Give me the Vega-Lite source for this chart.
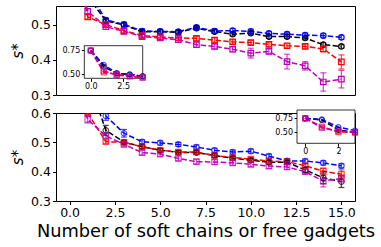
{
"$schema": "https://vega.github.io/schema/vega-lite/v6.json",
"padding": {"left": 10, "top": 5, "right": 0, "bottom": 0},
"background": "white",
"config": {"font": "DejaVu Sans", "view": {"stroke": "#000", "strokeWidth": 1}, "axis": {"grid": false, "labelOverlap": false, "labelColor": "#000", "titleColor": "#000", "tickColor": "#000", "labelFont": "DejaVu Sans", "titleFont": "DejaVu Sans", "titleFontWeight": "normal"}},
"datasets": {"d": [
{"p":"T","s":"k","n":0,"v":0.75,"lo":0.745,"hi":0.755},
{"p":"T","s":"k","n":1,"v":0.58,"lo":0.575,"hi":0.585},
{"p":"T","s":"k","n":2,"v":0.511,"lo":0.506,"hi":0.516},
{"p":"T","s":"k","n":3,"v":0.499,"lo":0.494,"hi":0.504},
{"p":"T","s":"k","n":4,"v":0.48,"lo":0.475,"hi":0.485},
{"p":"T","s":"k","n":5,"v":0.48,"lo":0.475,"hi":0.485},
{"p":"T","s":"k","n":6,"v":0.478,"lo":0.473,"hi":0.483},
{"p":"T","s":"k","n":7,"v":0.49,"lo":0.485,"hi":0.495},
{"p":"T","s":"k","n":8,"v":0.48,"lo":0.475,"hi":0.485},
{"p":"T","s":"k","n":9,"v":0.473,"lo":0.468,"hi":0.478},
{"p":"T","s":"k","n":10,"v":0.476,"lo":0.471,"hi":0.481},
{"p":"T","s":"k","n":11,"v":0.466,"lo":0.461,"hi":0.471},
{"p":"T","s":"k","n":12,"v":0.466,"lo":0.461,"hi":0.471},
{"p":"T","s":"k","n":13,"v":0.462,"lo":0.457,"hi":0.467},
{"p":"T","s":"k","n":14,"v":0.443,"lo":0.437,"hi":0.449},
{"p":"T","s":"k","n":15,"v":0.438,"lo":0.433,"hi":0.443},
{"p":"T","s":"b","n":0,"v":0.75,"lo":0.744,"hi":0.756},
{"p":"T","s":"b","n":1,"v":0.6,"lo":0.594,"hi":0.606},
{"p":"T","s":"b","n":2,"v":0.513,"lo":0.507,"hi":0.519},
{"p":"T","s":"b","n":3,"v":0.501,"lo":0.495,"hi":0.507},
{"p":"T","s":"b","n":4,"v":0.482,"lo":0.476,"hi":0.488},
{"p":"T","s":"b","n":5,"v":0.481,"lo":0.475,"hi":0.487},
{"p":"T","s":"b","n":6,"v":0.48,"lo":0.474,"hi":0.486},
{"p":"T","s":"b","n":7,"v":0.492,"lo":0.486,"hi":0.498},
{"p":"T","s":"b","n":8,"v":0.482,"lo":0.476,"hi":0.488},
{"p":"T","s":"b","n":9,"v":0.483,"lo":0.477,"hi":0.489},
{"p":"T","s":"b","n":10,"v":0.481,"lo":0.475,"hi":0.487},
{"p":"T","s":"b","n":11,"v":0.475,"lo":0.469,"hi":0.481},
{"p":"T","s":"b","n":12,"v":0.473,"lo":0.467,"hi":0.479},
{"p":"T","s":"b","n":13,"v":0.47,"lo":0.464,"hi":0.476},
{"p":"T","s":"b","n":14,"v":0.469,"lo":0.463,"hi":0.475},
{"p":"T","s":"b","n":15,"v":0.464,"lo":0.458,"hi":0.47},
{"p":"T","s":"r","n":0,"v":0.75,"lo":0.744,"hi":0.756},
{"p":"T","s":"r","n":1,"v":0.522,"lo":0.516,"hi":0.528},
{"p":"T","s":"r","n":2,"v":0.5,"lo":0.494,"hi":0.506},
{"p":"T","s":"r","n":3,"v":0.483,"lo":0.477,"hi":0.489},
{"p":"T","s":"r","n":4,"v":0.469,"lo":0.463,"hi":0.475},
{"p":"T","s":"r","n":5,"v":0.465,"lo":0.459,"hi":0.471},
{"p":"T","s":"r","n":6,"v":0.462,"lo":0.456,"hi":0.468},
{"p":"T","s":"r","n":7,"v":0.461,"lo":0.455,"hi":0.467},
{"p":"T","s":"r","n":8,"v":0.456,"lo":0.45,"hi":0.462},
{"p":"T","s":"r","n":9,"v":0.451,"lo":0.445,"hi":0.457},
{"p":"T","s":"r","n":10,"v":0.449,"lo":0.443,"hi":0.455},
{"p":"T","s":"r","n":11,"v":0.444,"lo":0.438,"hi":0.45},
{"p":"T","s":"r","n":12,"v":0.44,"lo":0.434,"hi":0.446},
{"p":"T","s":"r","n":13,"v":0.438,"lo":0.432,"hi":0.444},
{"p":"T","s":"r","n":14,"v":0.431,"lo":0.423,"hi":0.439},
{"p":"T","s":"r","n":15,"v":0.394,"lo":0.374,"hi":0.414},
{"p":"T","s":"m","n":0,"v":0.75,"lo":0.743,"hi":0.757},
{"p":"T","s":"m","n":1,"v":0.538,"lo":0.531,"hi":0.545},
{"p":"T","s":"m","n":2,"v":0.494,"lo":0.487,"hi":0.501},
{"p":"T","s":"m","n":3,"v":0.481,"lo":0.474,"hi":0.488},
{"p":"T","s":"m","n":4,"v":0.466,"lo":0.459,"hi":0.473},
{"p":"T","s":"m","n":5,"v":0.462,"lo":0.455,"hi":0.469},
{"p":"T","s":"m","n":6,"v":0.457,"lo":0.45,"hi":0.464},
{"p":"T","s":"m","n":7,"v":0.443,"lo":0.436,"hi":0.45},
{"p":"T","s":"m","n":8,"v":0.438,"lo":0.431,"hi":0.445},
{"p":"T","s":"m","n":9,"v":0.43,"lo":0.423,"hi":0.437},
{"p":"T","s":"m","n":10,"v":0.419,"lo":0.405,"hi":0.433},
{"p":"T","s":"m","n":11,"v":0.424,"lo":0.417,"hi":0.431},
{"p":"T","s":"m","n":12,"v":0.395,"lo":0.374,"hi":0.416},
{"p":"T","s":"m","n":13,"v":0.383,"lo":0.371,"hi":0.395},
{"p":"T","s":"m","n":14,"v":0.337,"lo":0.311,"hi":0.363},
{"p":"T","s":"m","n":15,"v":0.345,"lo":0.32,"hi":0.37},
{"p":"B","s":"k","n":0,"v":0.75,"lo":0.744,"hi":0.756},
{"p":"B","s":"k","n":1,"v":0.72,"lo":0.714,"hi":0.726},
{"p":"B","s":"k","n":2,"v":0.541,"lo":0.524,"hi":0.558},
{"p":"B","s":"k","n":3,"v":0.501,"lo":0.495,"hi":0.507},
{"p":"B","s":"k","n":4,"v":0.485,"lo":0.479,"hi":0.491},
{"p":"B","s":"k","n":5,"v":0.473,"lo":0.467,"hi":0.479},
{"p":"B","s":"k","n":6,"v":0.466,"lo":0.46,"hi":0.472},
{"p":"B","s":"k","n":7,"v":0.465,"lo":0.459,"hi":0.471},
{"p":"B","s":"k","n":8,"v":0.455,"lo":0.449,"hi":0.461},
{"p":"B","s":"k","n":9,"v":0.446,"lo":0.44,"hi":0.452},
{"p":"B","s":"k","n":10,"v":0.439,"lo":0.433,"hi":0.445},
{"p":"B","s":"k","n":11,"v":0.432,"lo":0.426,"hi":0.438},
{"p":"B","s":"k","n":12,"v":0.432,"lo":0.426,"hi":0.438},
{"p":"B","s":"k","n":13,"v":0.406,"lo":0.396,"hi":0.416},
{"p":"B","s":"k","n":14,"v":0.379,"lo":0.359,"hi":0.399},
{"p":"B","s":"k","n":15,"v":0.366,"lo":0.346,"hi":0.386},
{"p":"B","s":"b","n":0,"v":0.75,"lo":0.743,"hi":0.757},
{"p":"B","s":"b","n":1,"v":0.73,"lo":0.723,"hi":0.737},
{"p":"B","s":"b","n":2,"v":0.59,"lo":0.575,"hi":0.605},
{"p":"B","s":"b","n":3,"v":0.531,"lo":0.518,"hi":0.544},
{"p":"B","s":"b","n":4,"v":0.502,"lo":0.495,"hi":0.509},
{"p":"B","s":"b","n":5,"v":0.498,"lo":0.491,"hi":0.505},
{"p":"B","s":"b","n":6,"v":0.493,"lo":0.486,"hi":0.5},
{"p":"B","s":"b","n":7,"v":0.484,"lo":0.477,"hi":0.491},
{"p":"B","s":"b","n":8,"v":0.473,"lo":0.466,"hi":0.48},
{"p":"B","s":"b","n":9,"v":0.467,"lo":0.46,"hi":0.474},
{"p":"B","s":"b","n":10,"v":0.47,"lo":0.463,"hi":0.477},
{"p":"B","s":"b","n":11,"v":0.453,"lo":0.446,"hi":0.46},
{"p":"B","s":"b","n":12,"v":0.437,"lo":0.43,"hi":0.444},
{"p":"B","s":"b","n":13,"v":0.436,"lo":0.429,"hi":0.443},
{"p":"B","s":"b","n":14,"v":0.43,"lo":0.423,"hi":0.437},
{"p":"B","s":"b","n":15,"v":0.42,"lo":0.413,"hi":0.427},
{"p":"B","s":"r","n":0,"v":0.75,"lo":0.744,"hi":0.756},
{"p":"B","s":"r","n":1,"v":0.6,"lo":0.594,"hi":0.606},
{"p":"B","s":"r","n":2,"v":0.502,"lo":0.496,"hi":0.508},
{"p":"B","s":"r","n":3,"v":0.5,"lo":0.494,"hi":0.506},
{"p":"B","s":"r","n":4,"v":0.485,"lo":0.479,"hi":0.491},
{"p":"B","s":"r","n":5,"v":0.473,"lo":0.467,"hi":0.479},
{"p":"B","s":"r","n":6,"v":0.467,"lo":0.461,"hi":0.473},
{"p":"B","s":"r","n":7,"v":0.467,"lo":0.461,"hi":0.473},
{"p":"B","s":"r","n":8,"v":0.455,"lo":0.449,"hi":0.461},
{"p":"B","s":"r","n":9,"v":0.448,"lo":0.442,"hi":0.454},
{"p":"B","s":"r","n":10,"v":0.443,"lo":0.437,"hi":0.449},
{"p":"B","s":"r","n":11,"v":0.436,"lo":0.43,"hi":0.442},
{"p":"B","s":"r","n":12,"v":0.434,"lo":0.428,"hi":0.44},
{"p":"B","s":"r","n":13,"v":0.42,"lo":0.414,"hi":0.426},
{"p":"B","s":"r","n":14,"v":0.402,"lo":0.392,"hi":0.412},
{"p":"B","s":"r","n":15,"v":0.391,"lo":0.376,"hi":0.406},
{"p":"B","s":"m","n":0,"v":0.75,"lo":0.742,"hi":0.758},
{"p":"B","s":"m","n":1,"v":0.578,"lo":0.566,"hi":0.59},
{"p":"B","s":"m","n":2,"v":0.522,"lo":0.514,"hi":0.53},
{"p":"B","s":"m","n":3,"v":0.493,"lo":0.485,"hi":0.501},
{"p":"B","s":"m","n":4,"v":0.465,"lo":0.457,"hi":0.473},
{"p":"B","s":"m","n":5,"v":0.46,"lo":0.452,"hi":0.468},
{"p":"B","s":"m","n":6,"v":0.445,"lo":0.437,"hi":0.453},
{"p":"B","s":"m","n":7,"v":0.434,"lo":0.426,"hi":0.442},
{"p":"B","s":"m","n":8,"v":0.433,"lo":0.425,"hi":0.441},
{"p":"B","s":"m","n":9,"v":0.43,"lo":0.422,"hi":0.438},
{"p":"B","s":"m","n":10,"v":0.425,"lo":0.417,"hi":0.433},
{"p":"B","s":"m","n":11,"v":0.419,"lo":0.411,"hi":0.427},
{"p":"B","s":"m","n":12,"v":0.416,"lo":0.408,"hi":0.424},
{"p":"B","s":"m","n":13,"v":0.4,"lo":0.392,"hi":0.408},
{"p":"B","s":"m","n":14,"v":0.368,"lo":0.348,"hi":0.388},
{"p":"B","s":"m","n":15,"v":0.377,"lo":0.365,"hi":0.389}
]},
"bounds": "flush",
"spacing": 18,
"vconcat": [
{
 "width": 299, "height": 89,
 "resolve": {"scale": {"x": "independent", "y": "independent"}, "axis": {"x": "independent", "y": "independent"}},
 "layer": [
  {
   "data": {"name": "d"},
   "transform": [{"filter": "datum.p == 'T'"}],
   "encoding": {
    "x": {"field": "n", "type": "quantitative", "scale": {"domain": [-0.75, 15.75], "nice": false, "zero": false}, "axis": {"labels": false, "ticks": false, "title": null, "domain": false, "grid": false}},
    "color": {"field": "s", "type": "nominal", "scale": {"domain": ["k", "b", "r", "m"], "range": ["#000000", "#0000ff", "#ff0000", "#bf00bf"]}, "legend": null}
   },
   "layer": [
    {"mark": {"type": "line", "strokeDash": [5.5, 2.4], "strokeWidth": 1.5, "clip": true},
     "encoding": {"y": {"field": "v", "type": "quantitative", "title": "s*", "scale": {"domain": [0.3, 0.553], "nice": false, "zero": false}, "axis": {"values": [0.3, 0.4, 0.5], "format": ".1f", "title": "s*", "titleFontSize": 15, "titleFontStyle": "italic", "titlePadding": 5, "labelFontSize": 12.5, "tickSize": 3.5, "labelPadding": 2, "domain": false, "grid": false}}}},
    {"mark": {"type": "rule", "clip": true, "opacity": 0.7, "strokeWidth": 1.3},
     "encoding": {"y": {"field": "lo", "type": "quantitative", "title": "s*"}, "y2": {"field": "hi"}}},
    {"mark": {"type": "tick", "orient": "horizontal", "size": 6, "thickness": 1.2, "clip": true, "opacity": 0.7},
     "encoding": {"y": {"field": "lo", "type": "quantitative", "title": "s*"}}},
    {"mark": {"type": "tick", "orient": "horizontal", "size": 6, "thickness": 1.2, "clip": true, "opacity": 0.7},
     "encoding": {"y": {"field": "hi", "type": "quantitative", "title": "s*"}}},
    {"mark": {"type": "point", "filled": false, "size": 30, "strokeWidth": 1.2, "clip": true, "opacity": 1},
     "encoding": {"y": {"field": "v", "type": "quantitative", "title": "s*"}, "shape": {"field": "s", "type": "nominal", "scale": {"domain": ["k", "b", "r", "m"], "range": ["circle", "circle", "square", "square"]}, "legend": null}}}
   ]
  },
  {
   "layer": [
    {"data": {"values": [{}]},
     "mark": {"type": "rect", "fill": "white", "stroke": "#000", "strokeWidth": 0.8},
     "encoding": {
      "x": {"datum": -0.5, "type": "quantitative", "scale": {"domain": [-0.5, 4], "range": [28.3, 86.7], "nice": false, "zero": false}, "axis": {"orient": "bottom", "offset": -16.7, "values": [0, 2.5], "format": ".1f", "labelFontSize": 8, "tickSize": 3, "labelPadding": 1.5, "title": null, "domain": false, "grid": false}},
      "x2": {"datum": 4},
      "y": {"datum": 0.46, "type": "quantitative", "scale": {"domain": [0.46, 0.8], "range": [72.3, 39.7], "nice": false, "zero": false}, "axis": {"orient": "left", "offset": -28.3, "values": [0.5, 0.75], "format": ".2f", "labelFontSize": 8, "tickSize": 3, "labelPadding": 1.5, "title": null, "domain": false, "grid": false}},
      "y2": {"datum": 0.8}
     }},
    {
     "data": {"name": "d"},
     "transform": [{"filter": "datum.p == 'T' && datum.n <= 4"}],
     "encoding": {
      "x": {"field": "n", "type": "quantitative", "title": null},
      "color": {"field": "s", "type": "nominal", "legend": null}
     },
     "layer": [
      {"mark": {"type": "line", "strokeDash": [5.5, 2.4], "strokeWidth": 1.5},
       "encoding": {"y": {"field": "v", "type": "quantitative", "title": null}}},
      {"mark": {"type": "rule", "opacity": 0.7, "strokeWidth": 1.3},
       "encoding": {"y": {"field": "lo", "type": "quantitative", "title": null}, "y2": {"field": "hi"}}},
      {"mark": {"type": "point", "filled": false, "size": 25, "strokeWidth": 1.2},
       "encoding": {"y": {"field": "v", "type": "quantitative", "title": null}, "shape": {"field": "s", "type": "nominal", "legend": null}}}
     ]
    }
   ]
  }
 ]
},
{
 "width": 299, "height": 88,
 "resolve": {"scale": {"x": "independent", "y": "independent"}, "axis": {"x": "independent", "y": "independent"}},
 "layer": [
  {
   "data": {"name": "d"},
   "transform": [{"filter": "datum.p == 'B'"}],
   "encoding": {
    "x": {"field": "n", "type": "quantitative", "scale": {"domain": [-0.75, 15.75], "nice": false, "zero": false}, "axis": {"values": [0, 2.5, 5, 7.5, 10, 12.5, 15], "format": ".1f", "title": "Number of soft chains or free gadgets", "titleFontSize": 17.8, "titlePadding": 3, "labelFontSize": 12.5, "tickSize": 3.5, "labelPadding": 2, "domain": false, "grid": false}},
    "color": {"field": "s", "type": "nominal", "scale": {"domain": ["k", "b", "r", "m"], "range": ["#000000", "#0000ff", "#ff0000", "#bf00bf"]}, "legend": null}
   },
   "layer": [
    {"mark": {"type": "line", "strokeDash": [5.5, 2.4], "strokeWidth": 1.5, "clip": true},
     "encoding": {"y": {"field": "v", "type": "quantitative", "title": "s*", "scale": {"domain": [0.3, 0.6], "nice": false, "zero": false}, "axis": {"tickCount": 3, "format": ".1f", "title": "s*", "titleFontSize": 15, "titleFontStyle": "italic", "titlePadding": 5, "labelFontSize": 12.5, "tickSize": 3.5, "labelPadding": 2, "labelOverlap": false, "domain": false, "grid": false}}}},
    {"mark": {"type": "rule", "clip": true, "opacity": 0.7, "strokeWidth": 1.3},
     "encoding": {"y": {"field": "lo", "type": "quantitative", "title": "s*"}, "y2": {"field": "hi"}}},
    {"mark": {"type": "tick", "orient": "horizontal", "size": 6, "thickness": 1.2, "clip": true, "opacity": 0.7},
     "encoding": {"y": {"field": "lo", "type": "quantitative", "title": "s*"}}},
    {"mark": {"type": "tick", "orient": "horizontal", "size": 6, "thickness": 1.2, "clip": true, "opacity": 0.7},
     "encoding": {"y": {"field": "hi", "type": "quantitative", "title": "s*"}}},
    {"mark": {"type": "point", "filled": false, "size": 30, "strokeWidth": 1.2, "clip": true},
     "encoding": {"y": {"field": "v", "type": "quantitative", "title": "s*"}, "shape": {"field": "s", "type": "nominal", "scale": {"domain": ["k", "b", "r", "m"], "range": ["circle", "circle", "square", "square"]}, "legend": null}}}
   ]
  },
  {
   "layer": [
    {"data": {"values": [{}]},
     "mark": {"type": "rect", "fill": "white", "stroke": "#000", "strokeWidth": 0.8},
     "encoding": {
      "x": {"datum": -0.5, "type": "quantitative", "scale": {"domain": [-0.5, 3], "range": [241, 299], "nice": false, "zero": false}, "axis": {"orient": "bottom", "offset": -57.7, "values": [0, 2], "format": "d", "labelFontSize": 8, "tickSize": 3, "labelPadding": 1.5, "title": null, "domain": false, "grid": false}},
      "x2": {"datum": 3},
      "y": {"datum": 0.3, "type": "quantitative", "scale": {"domain": [0.3, 0.9], "range": [30.3, -3], "nice": false, "zero": false}, "axis": {"orient": "left", "offset": -241, "values": [0.5, 0.75], "format": ".2f", "labelFontSize": 8, "tickSize": 3, "labelPadding": 1.5, "title": null, "domain": false, "grid": false}},
      "y2": {"datum": 0.9}
     }},
    {
     "data": {"name": "d"},
     "transform": [{"filter": "datum.p == 'B' && datum.n <= 3"}],
     "encoding": {
      "x": {"field": "n", "type": "quantitative", "title": null},
      "color": {"field": "s", "type": "nominal", "legend": null}
     },
     "layer": [
      {"mark": {"type": "line", "strokeDash": [5.5, 2.4], "strokeWidth": 1.5},
       "encoding": {"y": {"field": "v", "type": "quantitative", "title": null}}},
      {"mark": {"type": "rule", "opacity": 0.7, "strokeWidth": 1.3},
       "encoding": {"y": {"field": "lo", "type": "quantitative", "title": null}, "y2": {"field": "hi"}}},
      {"mark": {"type": "point", "filled": false, "size": 25, "strokeWidth": 1.2},
       "encoding": {"y": {"field": "v", "type": "quantitative", "title": null}, "shape": {"field": "s", "type": "nominal", "legend": null}}}
     ]
    }
   ]
  }
 ]
}
]
}
